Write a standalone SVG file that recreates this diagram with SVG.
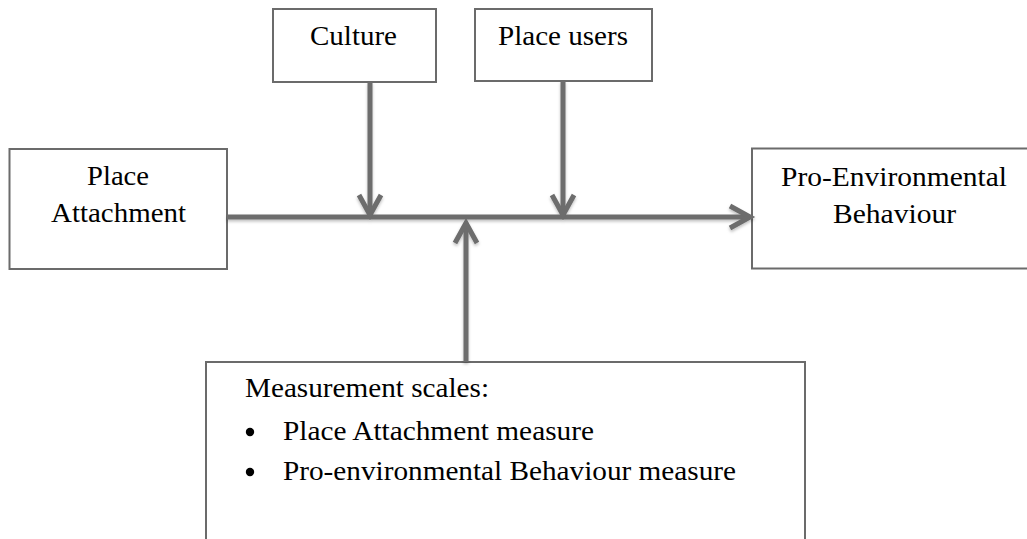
<svg xmlns="http://www.w3.org/2000/svg" width="1027" height="539" viewBox="0 0 1027 539">
<style>
.box{fill:#ffffff;stroke:#6b6b6b;stroke-width:2}
.t{font-family:"Liberation Serif","Times New Roman",serif;font-size:28px;fill:#000000}
.con{fill:none;stroke:#6d6d6d;stroke-width:5}
</style>
<defs>
<filter id="sh" x="-10%" y="-10%" width="120%" height="120%">
<feDropShadow dx="0" dy="2" stdDeviation="1.5" flood-color="#000000" flood-opacity="0.25"/>
</filter>
<marker id="chev" markerUnits="userSpaceOnUse" viewBox="-26 -16 32 32" markerWidth="32" markerHeight="32" refX="0" refY="0" orient="auto">
<path d="M-20,-11 L0,0 L-20,11" fill="none" stroke="#6d6d6d" stroke-width="5" stroke-linejoin="miter"/>
</marker>
</defs>
<rect width="1027" height="539" fill="#ffffff"/>
<g id="node-place-attachment">
<rect class="box" x="9.5" y="149" width="217.5" height="120"/>
<text class="t" x="118" y="185" text-anchor="middle" textLength="62" lengthAdjust="spacingAndGlyphs">Place</text>
<text class="t" x="118.5" y="222" text-anchor="middle" textLength="135" lengthAdjust="spacingAndGlyphs">Attachment</text>
</g>
<g id="node-culture">
<rect class="box" x="273" y="9" width="163" height="73"/>
<text class="t" x="353.5" y="45" text-anchor="middle" textLength="87" lengthAdjust="spacingAndGlyphs">Culture</text>
</g>
<g id="node-place-users">
<rect class="box" x="475" y="9" width="177" height="72"/>
<text class="t" x="563" y="45" text-anchor="middle" textLength="130" lengthAdjust="spacingAndGlyphs">Place users</text>
</g>
<g id="node-pro-environmental-behaviour">
<rect class="box" x="752" y="148.5" width="280" height="120"/>
<text class="t" x="894" y="186" text-anchor="middle" textLength="226" lengthAdjust="spacingAndGlyphs">Pro-Environmental</text>
<text class="t" x="894.5" y="223" text-anchor="middle" textLength="123" lengthAdjust="spacingAndGlyphs">Behaviour</text>
</g>
<g id="node-measurement-scales">
<rect class="box" x="206" y="362" width="599" height="200"/>
<text class="t" x="245" y="397" textLength="244" lengthAdjust="spacingAndGlyphs">Measurement scales:</text>
<circle cx="250" cy="432" r="4.2" fill="#000000"/>
<text class="t" x="283" y="440" textLength="311" lengthAdjust="spacingAndGlyphs">Place Attachment measure</text>
<circle cx="250" cy="472" r="4.2" fill="#000000"/>
<text class="t" x="283" y="480" textLength="453" lengthAdjust="spacingAndGlyphs">Pro-environmental Behaviour measure</text>
</g>
<g id="connectors" filter="url(#sh)">
<line class="con" x1="227" y1="217" x2="750" y2="217" marker-end="url(#chev)"/>
<line class="con" x1="370" y1="82" x2="370" y2="215" marker-end="url(#chev)"/>
<line class="con" x1="563" y1="81" x2="563" y2="215" marker-end="url(#chev)"/>
<line class="con" x1="466" y1="362" x2="466" y2="223" marker-end="url(#chev)"/>
</g>
</svg>
